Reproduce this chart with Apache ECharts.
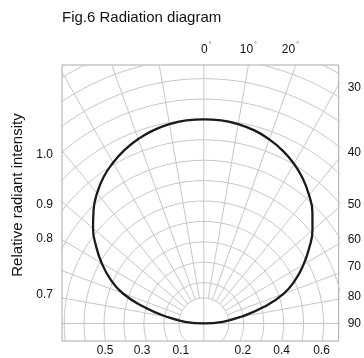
<!DOCTYPE html>
<html>
<head>
<meta charset="utf-8">
<script src="https://cdn.jsdelivr.net/npm/echarts@6/dist/echarts.min.js"></script>
<style>
html,body{margin:0;padding:0;background:#fff;}
#c{width:364px;height:358px;}
</style>
</head>
<body>
<div id="c"></div>
<script>
// ---- data ----
const titleText = 'Fig.6 Radiation diagram';
const yAxisName = 'Relative radiant intensity';
const ringRadii = [0.125, 0.2, 0.3, 0.4, 0.5, 0.6, 0.7, 0.8, 0.9, 1.0, 1.1, 1.2, 1.3, 1.4];
const rayAngles = [-90, -80, -70, -60, -50, -40, -30, -20, -10, 0, 10, 20, 30, 40, 50, 60, 70, 80, 90];
const patternAngles = [-90, -85, -80, -75, -70, -65, -60, -55, -50, -45, -40, -35, -30, -25, -20, -15, -10, -5, 0,
                       5, 10, 15, 20, 25, 30, 35, 40, 45, 50, 55, 60, 65, 70, 75, 80, 85, 90];
const patternIntensity = [0, 0.095, 0.19, 0.31, 0.433, 0.518, 0.591, 0.659, 0.725, 0.782, 0.833, 0.876, 0.91, 0.939, 0.962, 0.98, 0.992, 0.999, 1.0,
                          0.999, 0.992, 0.98, 0.96, 0.935, 0.904, 0.866, 0.821, 0.77, 0.711, 0.645, 0.577, 0.506, 0.425, 0.31, 0.19, 0.095, 0];
const bottomTickValues = [-0.495, -0.309, -0.115, 0.196, 0.39, 0.59];
const bottomTickLabels = ['0.5', '0.3', '0.1', '0.2', '0.4', '0.6'];
const topTickValues = [0.012, 0.223, 0.434];
const topTickLabels = ['0', '10', '20'];
const leftTickValues = [0.826, 0.581, 0.417, 0.14];
const leftTickLabels = ['1.0', '0.9', '0.8', '0.7'];
const rightTickValues = [1.154, 0.836, 0.581, 0.409, 0.277, 0.130, 0.0];
const rightTickLabels = ['30', '40', '50', '60', '70', '80', '90'];

// ---- chart ----
const XMIN = -0.711, XMAX = 0.676, YMIN = -0.086, YMAX = 1.267;
const rad = d => d * Math.PI / 180;
function pick(vals, labels, v) {
  let bi = 0, bd = Infinity;
  vals.forEach((x, i) => { const d = Math.abs(x - v); if (d < bd) { bd = d; bi = i; } });
  return labels[bi];
}
const gridColor = '#c6c6c6';
const series = [];
ringRadii.forEach(r => {
  const pts = [];
  for (let a = 0; a <= 360; a += 2) pts.push([r * Math.sin(rad(a)), r * Math.cos(rad(a))]);
  series.push({type: 'line', data: pts, showSymbol: false, symbol: 'none', silent: true,
    lineStyle: {color: gridColor, width: 1}, z: 1});
});
rayAngles.forEach(a => {
  let r0 = ringRadii[0];
  if (a === 0 || Math.abs(a) === 90) r0 = -3;
  const pts = [[r0 * Math.sin(rad(a)), r0 * Math.cos(rad(a))], [3 * Math.sin(rad(a)), 3 * Math.cos(rad(a))]];
  series.push({type: 'line', data: pts, showSymbol: false, symbol: 'none', silent: true,
    lineStyle: {color: gridColor, width: 1}, z: 1});
});
series.push({
  type: 'line', showSymbol: false, symbol: 'none', smooth: 0.5, z: 5,
  data: patternAngles.map((a, i) => [patternIntensity[i] * Math.sin(rad(a)), patternIntensity[i] * Math.cos(rad(a))]),
  lineStyle: {color: '#1a1a1a', width: 2.3}
});

const font = 'Liberation Sans, Arial, sans-serif';
const chart = echarts.init(document.getElementById('c'), null, {renderer: 'canvas'});
chart.setOption({
  animation: false,
  backgroundColor: '#fff',
  title: {text: titleText, left: 57, top: 5, textStyle: {fontFamily: font, fontSize: 15, fontWeight: 'normal', color: '#111'}},
  grid: {left: 62, right: 19, top: 65, bottom: 17, show: true, borderColor: '#aaa', borderWidth: 1, backgroundColor: 'transparent'},
  xAxis: [
    {type: 'value', position: 'bottom', min: XMIN, max: XMAX,
     axisLine: {show: false}, axisTick: {show: false}, splitLine: {show: false},
     axisLabel: {customValues: bottomTickValues, margin: 4, fontFamily: font, fontSize: 12, color: '#111',
       formatter: v => pick(bottomTickValues, bottomTickLabels, v)}},
    {type: 'value', position: 'top', min: XMIN, max: XMAX,
     axisLine: {show: false}, axisTick: {show: false}, splitLine: {show: false},
     axisLabel: {customValues: topTickValues, margin: 7, fontFamily: font, fontSize: 12, color: '#111',
       formatter: v => '{n|' + pick(topTickValues, topTickLabels, v) + '}{d|°}',
       rich: {n: {fontFamily: font, fontSize: 12, color: '#111'}, d: {fontFamily: font, fontSize: 7, color: '#555', padding: [0, 0, 9, 1]}}}}
  ],
  yAxis: [
    {type: 'value', position: 'left', min: YMIN, max: YMAX,
     name: yAxisName, nameLocation: 'middle', nameRotate: 90, nameGap: 30,
     nameTextStyle: {fontFamily: font, fontSize: 15, color: '#111', padding: [0, 0, 0, 16]},
     axisLine: {show: false}, axisTick: {show: false}, splitLine: {show: false},
     axisLabel: {customValues: leftTickValues, margin: 9, fontFamily: font, fontSize: 12, color: '#111',
       formatter: v => pick(leftTickValues, leftTickLabels, v)}},
    {type: 'value', position: 'right', min: YMIN, max: YMAX,
     axisLine: {show: false}, axisTick: {show: false}, splitLine: {show: false},
     axisLabel: {customValues: rightTickValues, margin: 9, fontFamily: font, fontSize: 12, color: '#111',
       formatter: v => pick(rightTickValues, rightTickLabels, v)}}
  ],
  series: series
});
</script>
</body>
</html>
